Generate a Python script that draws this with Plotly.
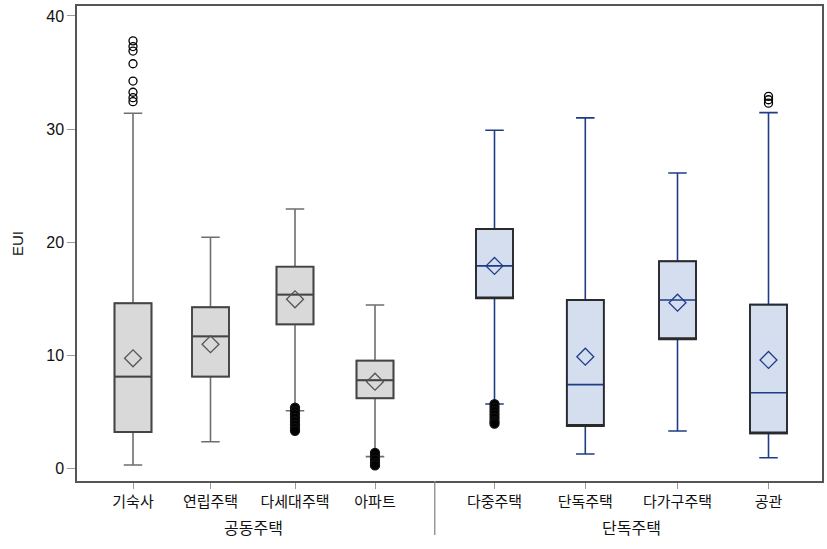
import plotly.graph_objects as go
import numpy as np

# ---------------- data ----------------
categories = ["기숙사", "연립주택", "다세대주택", "아파트", "다중주택", "단독주택", "다가구주택", "공관"]
groups = ["공동주택", "공동주택", "공동주택", "공동주택", "단독주택", "단독주택", "단독주택", "단독주택"]
lower_whisker = [0.34, 2.39, 5.13, 1.07, 5.72, 1.31, 3.34, 0.98]
q1_vals      = [3.25, 8.14, 12.76, 6.23, 15.06, 3.78, 11.44, 3.13]
median_vals  = [8.14, 11.70, 15.38, 7.82, 17.92, 7.43, 14.91, 6.72]
q3_vals      = [14.62, 14.27, 17.85, 9.55, 21.18, 14.91, 18.33, 14.50]
upper_whisker = [31.40, 20.45, 22.95, 14.47, 29.90, 31.00, 26.13, 31.46]
mean_vals    = [9.76, 11.00, 14.97, 7.69, 17.92, 9.90, 14.67, 9.61]
outliers = {
    "기숙사": [37.80, 37.30, 36.90, 35.78, 34.25, 33.26, 32.78, 32.43],
    "다세대주택": [5.40, 5.10, 4.80, 4.50, 4.20, 3.90, 3.60, 3.35],
    "아파트": [1.40, 1.10, 0.80, 0.50, 0.30],
    "다중주택": [5.70, 5.40, 5.10, 4.80, 4.50, 4.20, 3.98],
    "공관": [32.90, 32.60, 32.30],
}
y_ticks = [0, 10, 20, 30, 40]

# ---------------- layout / style ----------------
W, H = 827, 549
ML, MR, MT, MB = 77, 5, 6, 68
plot_w = W - ML - MR
plot_h = H - MT - MB
positions = [56, 133.5, 218, 298, 417.5, 508.3, 600.5, 691.5]   # slot centres (pixels from frame left)
box_w = 37
style = {
    "공동주택": dict(fill="#d9d9d9", line="#6e6e6e", edge="#2e2e2e", median="#444444", mean="#555555"),
    "단독주택": dict(fill="#d5deef", line="#1f3c88", edge="#2a2a2a", median=None, mean="#1f3c88"),
}
font_family = "Liberation Sans, Arial, Noto Sans CJK KR, sans-serif"

fig = go.Figure()
for i, cat in enumerate(categories):
    st = style[groups[i]]
    x = positions[i]
    # whiskers, fill, median
    fig.add_trace(go.Box(
        x=[x], q1=[q1_vals[i]], median=[median_vals[i]], q3=[q3_vals[i]],
        lowerfence=[lower_whisker[i]], upperfence=[upper_whisker[i]],
        width=box_w, whiskerwidth=0.5, boxpoints=False,
        fillcolor=st["fill"], line=dict(color=st["line"], width=1.6),
        showlegend=False, hoverinfo="skip"))
    # box outline (darker)
    med_b = median_vals[i] if st["median"] else q1_vals[i]
    fig.add_trace(go.Box(
        x=[x], q1=[q1_vals[i]], median=[med_b], q3=[q3_vals[i]],
        lowerfence=[q1_vals[i]], upperfence=[q3_vals[i]],
        width=box_w, whiskerwidth=0, boxpoints=False,
        fillcolor="rgba(0,0,0,0)", line=dict(color=st["median"] or st["edge"], width=1.8),
        showlegend=False, hoverinfo="skip"))
    # mean diamond
    fig.add_trace(go.Scatter(
        x=[x], y=[mean_vals[i]], mode="markers",
        marker=dict(symbol="diamond-open", size=13, color=st["mean"], line=dict(width=1.3)),
        showlegend=False, hoverinfo="skip"))
    # outliers
    if cat in outliers:
        vals = outliers[cat]
        dense = cat in ("다세대주택", "아파트", "다중주택")
        fig.add_trace(go.Scatter(
            x=[x] * len(vals), y=vals, mode="markers",
            marker=dict(symbol="circle" if dense else "circle-open", size=9 if dense else 8,
                        color="#000000", line=dict(width=1.3, color="#111111")),
            showlegend=False, hoverinfo="skip"))

# group divider and labels
grp_names = ["공동주택", "단독주택"]
first_right = groups.index("단독주택")
div_x = (positions[first_right - 1] + positions[first_right]) / 2
fig.add_shape(type="line", xref="x", yref="paper", x0=div_x, x1=div_x,
              y0=0, y1=-(535 - (H - MB)) / plot_h,
              line=dict(color="#8a8a8a", width=1.3))
for g in grp_names:
    xs = [positions[i] for i in range(len(categories)) if groups[i] == g]
    fig.add_annotation(x=float(np.mean(xs)), xref="x", y=-(528 - (H - MB)) / plot_h, yref="paper",
                       text=g, showarrow=False, yanchor="middle",
                       font=dict(size=16, color="#111111", family=font_family))
# y-axis title
fig.add_annotation(x=-(ML - 18) / plot_w, xref="paper", y=(H - MB - 243) / plot_h, yref="paper",
                   text="EUI", textangle=-90, showarrow=False, xanchor="center", yanchor="middle",
                   font=dict(size=15, color="#111111", family=font_family))

fig.update_layout(
    width=W, height=H, margin=dict(l=ML, r=MR, t=MT, b=MB, autoexpand=False),
    paper_bgcolor="white", plot_bgcolor="white",
    boxmode="overlay",
    font=dict(family=font_family, size=15, color="#111111"),
)
fig.update_xaxes(range=[0, plot_w], tickvals=positions, ticktext=categories,
                 showgrid=False, zeroline=False, showline=True, mirror=True,
                 linecolor="#555555", linewidth=1.5, automargin=False,
                 ticks="outside", ticklen=6, tickcolor="#9a9a9a", tickwidth=1,
                 tickfont=dict(size=15))
fig.update_yaxes(range=[-1.08, 40.88], tickvals=y_ticks,
                 showgrid=False, zeroline=False, showline=True, mirror=True,
                 linecolor="#555555", linewidth=1.5, automargin=False,
                 ticks="outside", ticklen=8, tickcolor="#9a9a9a", tickwidth=1,
                 tickfont=dict(size=16))

fig.write_html("out.html", config={"displayModeBar": False},
               post_script="document.body.style.margin='0';document.body.style.overflow='hidden';")
